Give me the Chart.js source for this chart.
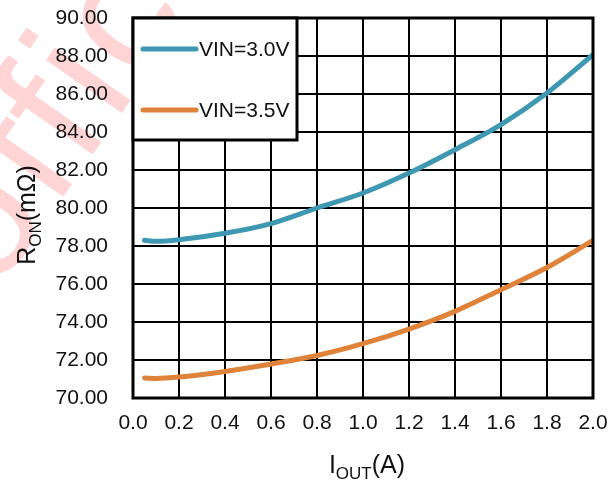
<!DOCTYPE html>
<html>
<head>
<meta charset="utf-8">
<script src="https://cdn.jsdelivr.net/npm/chart.js@4.4.1/dist/chart.umd.min.js"></script>
<style>
  html, body { margin: 0; padding: 0; background: #ffffff; }
  #wrap { width: 614px; height: 481px; position: relative; }
  canvas { display: block; }
</style>
</head>
<body>
<div id="wrap"><canvas id="c" width="614" height="481"></canvas></div>
<script>
// ---- data ----
const iout = [0.05, 0.1, 0.2, 0.4, 0.6, 0.8, 1.0, 1.2, 1.4, 1.6, 1.8, 2.0];
const ron_vin30 = [78.30, 78.25, 78.33, 78.67, 79.18, 80.00, 80.79, 81.84, 83.07, 84.39, 86.05, 88.07];
const ron_vin35 = [71.05, 71.03, 71.10, 71.40, 71.79, 72.24, 72.86, 73.63, 74.56, 75.70, 76.87, 78.30];
const seriesLabels = ['VIN=3.0V', 'VIN=3.5V'];
const xTicks = [0.0, 0.2, 0.4, 0.6, 0.8, 1.0, 1.2, 1.4, 1.6, 1.8, 2.0];
const yTicks = [70, 72, 74, 76, 78, 80, 82, 84, 86, 88, 90];
const watermarkText = 'office';

const FONT = '"Liberation Sans", Arial, sans-serif';
const BLUE = '#3f98b1';
const ORANGE = '#e0833a';

const toPts = (xs, ys) => xs.map((x, i) => ({ x: x, y: ys[i] }));

const watermark = {
  id: 'watermark',
  beforeDraw(chart) {
    const ctx = chart.ctx;
    ctx.save();
    ctx.fillStyle = 'rgba(255, 0, 0, 0.17)';
    ctx.font = '175px ' + FONT;
    if ('letterSpacing' in ctx) ctx.letterSpacing = '6px';
    ctx.translate(-5, 294);
    ctx.rotate(-55 * Math.PI / 180);
    ctx.textBaseline = 'alphabetic';
    ctx.textAlign = 'left';
    ctx.fillText(watermarkText, 0, 0);
    ctx.restore();
  }
};

const frameAndLegend = {
  id: 'frameAndLegend',
  afterDatasetsDraw(chart) {
    const ctx = chart.ctx;
    const a = chart.chartArea;
    ctx.save();
    ctx.strokeStyle = '#000';
    ctx.lineWidth = 3;
    ctx.strokeRect(a.left, a.top, a.right - a.left, a.bottom - a.top);
    const lx = a.left, ly = a.top, lw = 164, lh = 122;
    ctx.fillStyle = '#fff';
    ctx.fillRect(lx, ly, lw, lh);
    ctx.lineWidth = 3;
    ctx.strokeRect(lx, ly, lw, lh);
    const rows = [ly + 31, ly + 92];
    chart.data.datasets.forEach((ds, i) => {
      ctx.strokeStyle = ds.borderColor;
      ctx.lineWidth = 5;
      ctx.lineCap = 'round';
      ctx.beginPath();
      ctx.moveTo(lx + 10, rows[i]);
      ctx.lineTo(lx + 63, rows[i]);
      ctx.stroke();
      ctx.fillStyle = '#111';
      ctx.font = '21px ' + FONT;
      ctx.textBaseline = 'middle';
      ctx.textAlign = 'left';
      ctx.fillText(ds.label, lx + 66, rows[i] + 1);
    });
    ctx.restore();
  }
};

function drawSub(ctx, parts, size) {
  let w = 0;
  parts.forEach(p => {
    ctx.font = (p[1] ? size * 0.68 : size) + 'px ' + FONT;
    w += ctx.measureText(p[0]).width;
  });
  let x = -w / 2;
  parts.forEach(p => {
    ctx.font = (p[1] ? size * 0.68 : size) + 'px ' + FONT;
    ctx.fillText(p[0], x, p[1] ? size * 0.22 : 0);
    x += ctx.measureText(p[0]).width;
  });
}

const titles = {
  id: 'titles',
  afterDraw(chart) {
    const ctx = chart.ctx;
    const a = chart.chartArea;
    ctx.save();
    ctx.fillStyle = '#111';
    ctx.textBaseline = 'alphabetic';
    ctx.textAlign = 'left';
    ctx.save();
    ctx.translate((a.left + a.right) / 2 + 4, 473);
    drawSub(ctx, [['I', false], ['OUT', true], ['(A)', false]], 25);
    ctx.restore();
    ctx.save();
    ctx.translate(35, (a.top + a.bottom) / 2 + 7);
    ctx.rotate(-Math.PI / 2);
    drawSub(ctx, [['R', false], ['ON', true], ['(mΩ)', false]], 25);
    ctx.restore();
    ctx.restore();
  }
};

new Chart(document.getElementById('c'), {
  type: 'line',
  data: {
    datasets: [
      { label: seriesLabels[0], data: toPts(iout, ron_vin30), borderColor: BLUE, borderWidth: 5,
        pointRadius: 0, cubicInterpolationMode: 'monotone', borderCapStyle: 'round', fill: false },
      { label: seriesLabels[1], data: toPts(iout, ron_vin35), borderColor: ORANGE, borderWidth: 5,
        pointRadius: 0, cubicInterpolationMode: 'monotone', borderCapStyle: 'round', fill: false }
    ]
  },
  options: {
    responsive: false,
    animation: false,
    devicePixelRatio: 1,
    layout: { padding: { left: 0, right: 21, top: 18, bottom: 0 } },
    plugins: { legend: { display: false }, tooltip: { enabled: false }, title: { display: false } },
    scales: {
      x: {
        type: 'linear', min: 0, max: 2.0,
        afterBuildTicks(scale) { scale.ticks = xTicks.map(v => ({ value: v })); },
        afterFit(scale) { scale.height = 83; scale.paddingLeft = 0; scale.paddingRight = 0; },
        grid: { color: '#000', lineWidth: 2, drawTicks: false },
        border: { display: false },
        ticks: { color: '#111', font: { family: FONT, size: 21 }, padding: 13, maxRotation: 0,
          callback: v => Number(v).toFixed(1) }
      },
      y: {
        type: 'linear', min: 70, max: 90,
        afterBuildTicks(scale) { scale.ticks = yTicks.map(v => ({ value: v })); },
        afterFit(scale) { scale.width = 133; scale.paddingTop = 0; scale.paddingBottom = 0; },
        grid: { color: '#000', lineWidth: 2, drawTicks: false },
        border: { display: false },
        ticks: { color: '#111', font: { family: FONT, size: 21 }, padding: 25,
          callback: v => Number(v).toFixed(2) }
      }
    }
  },
  plugins: [watermark, frameAndLegend, titles]
});
</script>
</body>
</html>
